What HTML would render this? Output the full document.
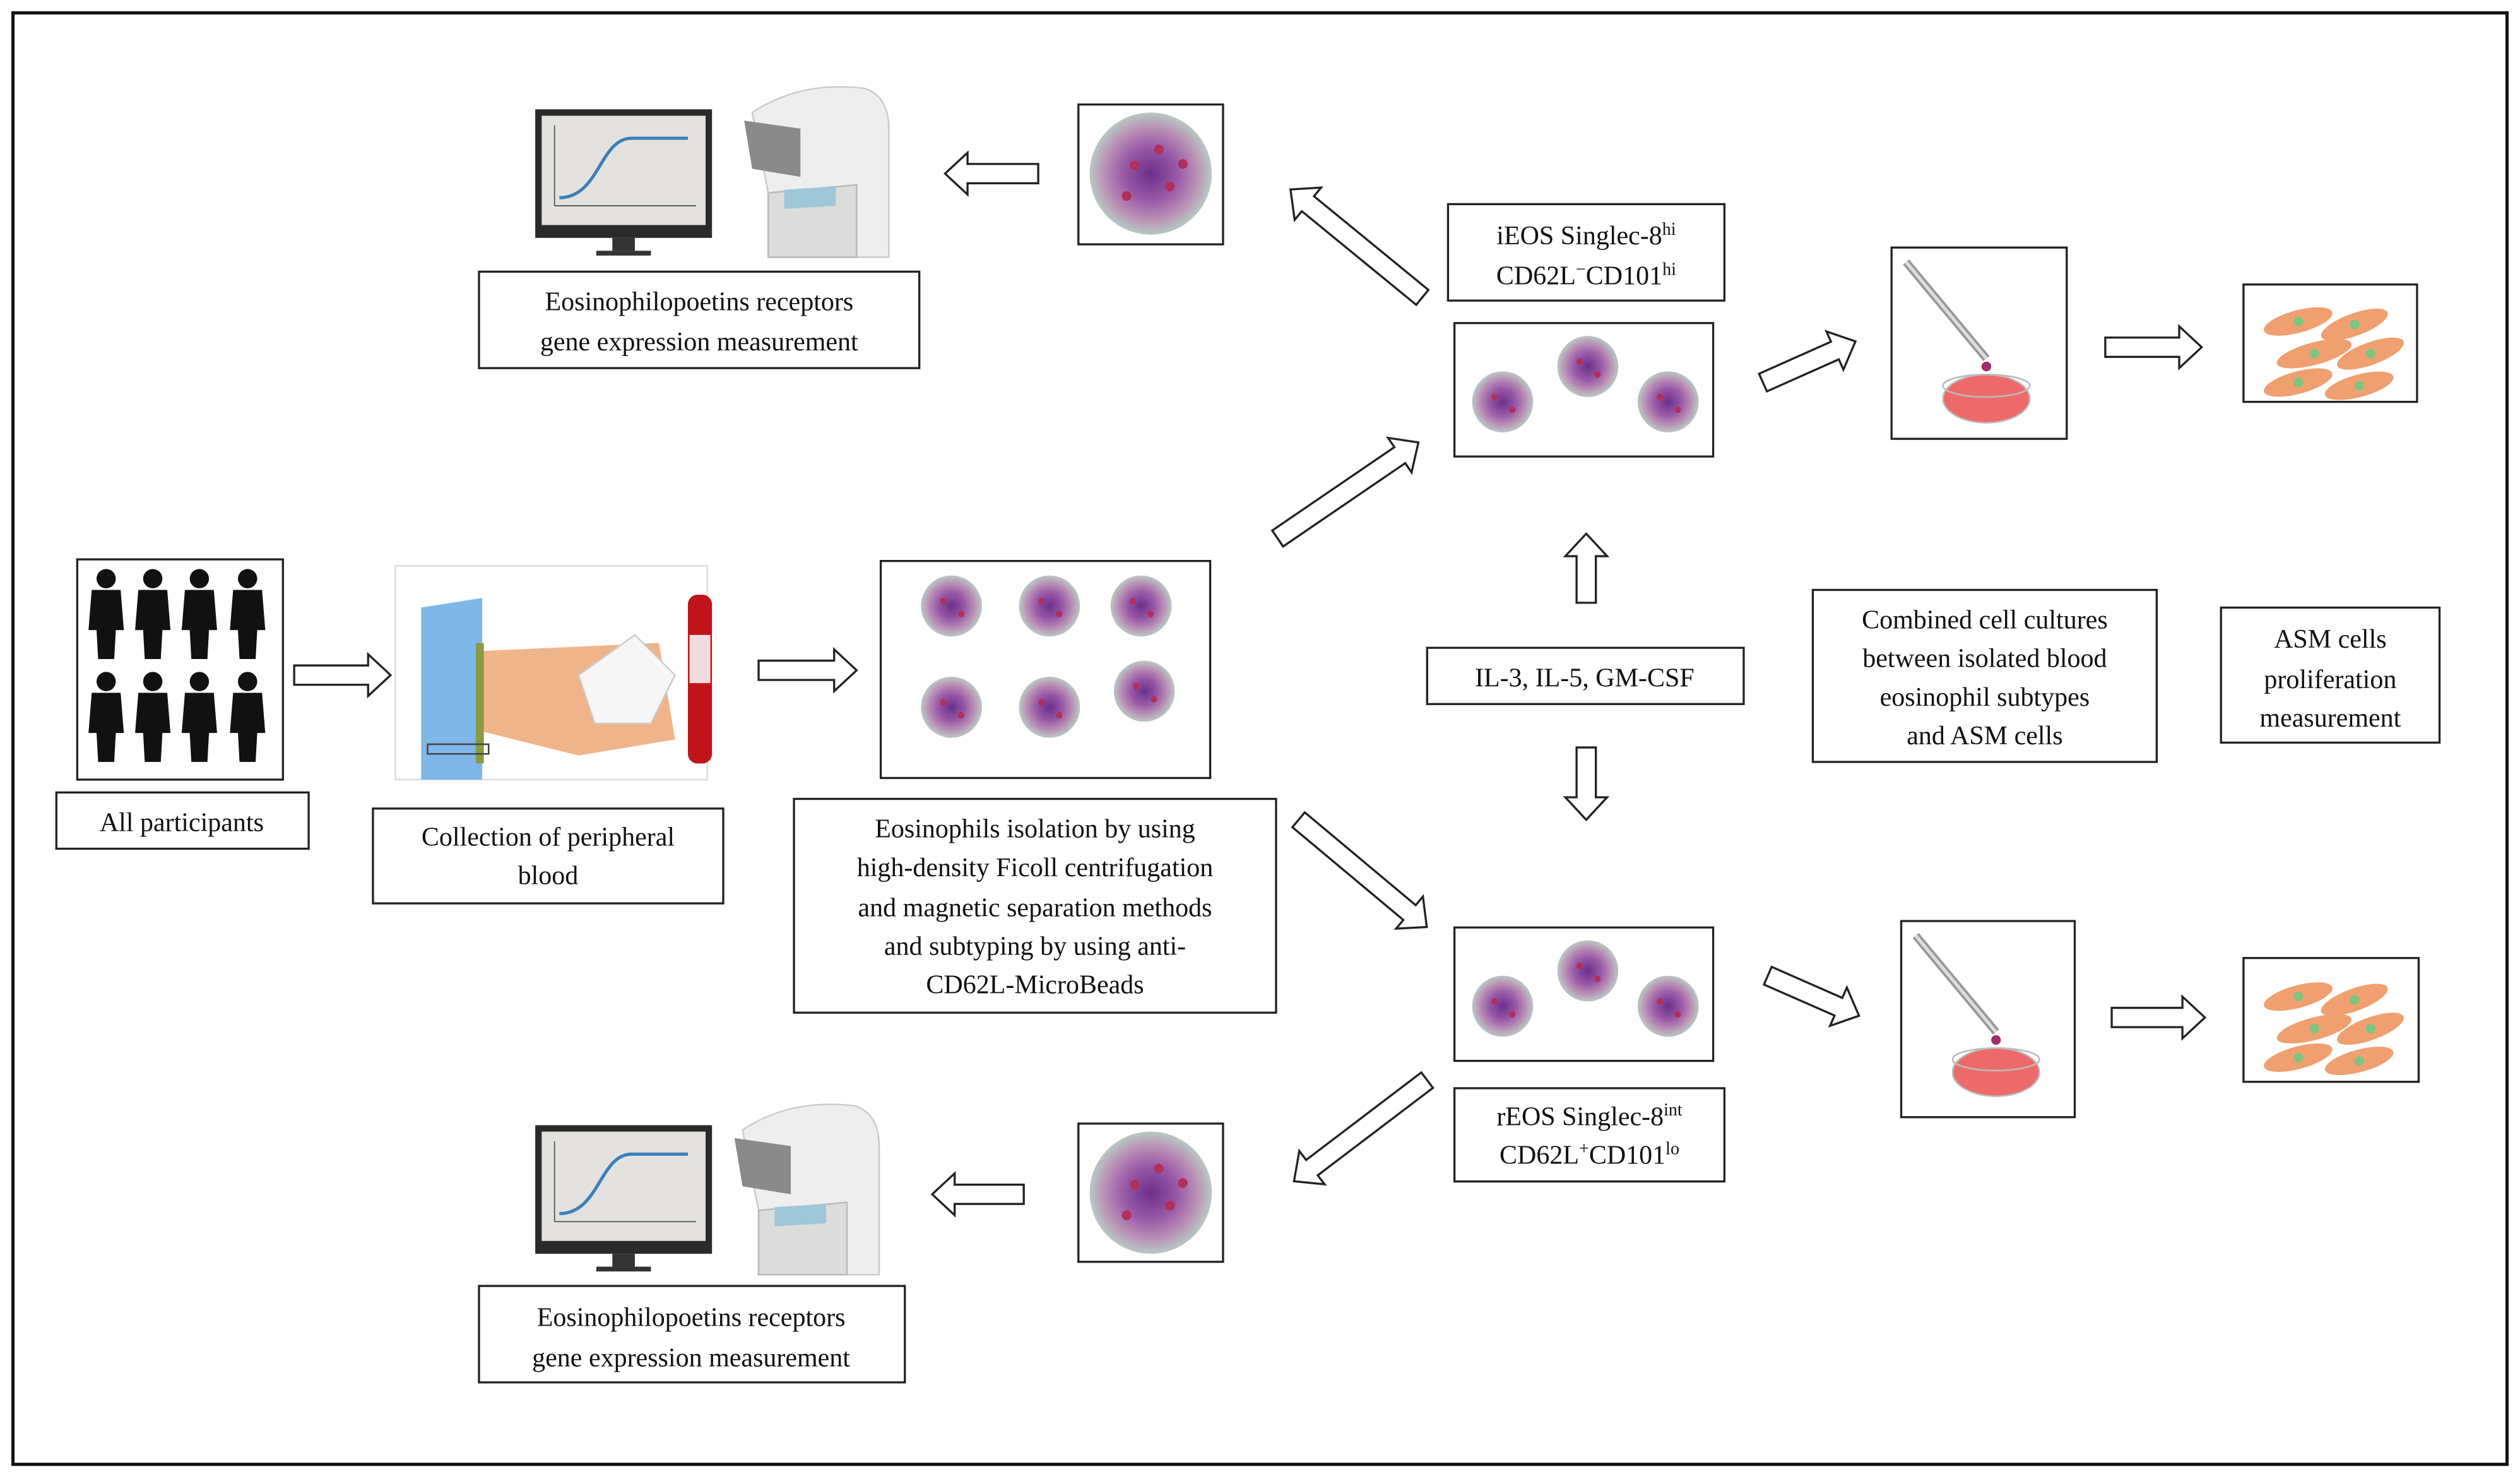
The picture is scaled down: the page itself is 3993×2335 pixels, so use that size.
<!DOCTYPE html>
<html><head><meta charset="utf-8"><style>
html,body{margin:0;padding:0;background:#fff;}
svg{display:block;}
text{font-family:"Liberation Serif",serif;font-size:16.5px;fill:#111;}
</style></head><body>
<svg width="3993" height="2335" viewBox="0 0 1568 917" xmlns="http://www.w3.org/2000/svg">
<defs>
<radialGradient id="cell" cx="50%" cy="50%" r="50%">
<stop offset="0" stop-color="#6a2f8a"/><stop offset="0.45" stop-color="#9a5aa8"/><stop offset="0.75" stop-color="#b98fb5"/><stop offset="1" stop-color="#b9c8c3"/></radialGradient>
<polygon id="ar" points="0,-6 1,-6 1,-13 15,0 1,13 1,6 0,6"/>
<g id="mon">
<rect x="0" y="0" width="110" height="80" fill="#2a2a2a"/>
<rect x="4" y="4" width="102" height="68" fill="#e4e2df"/>
<path d="M12,60 L12,10 M12,60 L100,60" stroke="#555" stroke-width="0.7" fill="none"/>
<path d="M15,55 C40,55 40,18 60,18 L95,18" stroke="#3c7fb8" stroke-width="2" fill="none"/>
<rect x="48" y="80" width="14" height="8" fill="#333"/><rect x="38" y="88" width="34" height="3" fill="#333"/>
</g>
<g id="mach">
<path d="M10,20 Q40,0 80,5 Q95,10 95,30 L95,110 L20,110 L20,70 Z" fill="#eeeeee" stroke="#ccc"/>
<path d="M5,25 L40,30 L40,60 L10,55 Z" fill="#8a8a8a"/>
<path d="M20,70 L75,65 L75,110 L20,110 Z" fill="#dcdcdc" stroke="#bbb"/>
<path d="M30,68 L62,66 L62,78 L30,80 Z" fill="#9fc7d8"/>
</g>
<g id="bigcell"><circle r="38" fill="url(#cell)"/><circle cx="-10" cy="-5" r="3" fill="#b0305a"/><circle cx="12" cy="8" r="3" fill="#b0305a"/><circle cx="5" cy="-15" r="3" fill="#b0305a"/><circle cx="-15" cy="14" r="3" fill="#b0305a"/><circle cx="20" cy="-6" r="3" fill="#b0305a"/></g>
<g id="sc"><circle r="19" fill="url(#cell)"/><circle cx="-5" cy="-3" r="2" fill="#b0305a"/><circle cx="6" cy="5" r="2" fill="#b0305a"/></g>
<g id="asm">
<ellipse cx="30" cy="20" rx="22" ry="7" transform="rotate(-15 30 20)" fill="#f0a070"/><circle cx="30" cy="20" r="3" fill="#7fc47f"/>
<ellipse cx="65" cy="22" rx="22" ry="7" transform="rotate(-20 65 22)" fill="#f0a070"/><circle cx="65" cy="22" r="3" fill="#7fc47f"/>
<ellipse cx="40" cy="40" rx="24" ry="7" transform="rotate(-15 40 40)" fill="#f0a070"/><circle cx="40" cy="40" r="3" fill="#7fc47f"/>
<ellipse cx="75" cy="40" rx="22" ry="7" transform="rotate(-20 75 40)" fill="#f0a070"/><circle cx="75" cy="40" r="3" fill="#7fc47f"/>
<ellipse cx="30" cy="58" rx="22" ry="7" transform="rotate(-15 30 58)" fill="#f0a070"/><circle cx="30" cy="58" r="3" fill="#7fc47f"/>
<ellipse cx="68" cy="60" rx="22" ry="7" transform="rotate(-15 68 60)" fill="#f0a070"/><circle cx="68" cy="60" r="3" fill="#7fc47f"/>
</g>
<g id="pip">
<line x1="8" y1="5" x2="58" y2="65" stroke="#999" stroke-width="5"/>
<line x1="8" y1="5" x2="58" y2="65" stroke="#ddd" stroke-width="2"/>
<circle cx="58" cy="70" r="3" fill="#a0306a"/>
<ellipse cx="58" cy="90" rx="27" ry="15" fill="#ee6a6a" stroke="#bbb"/>
<ellipse cx="58" cy="82" rx="27" ry="7" fill="none" stroke="#bbb"/>
</g>
<g id="fig"><circle cx="0" cy="-24" r="6"/><path d="M-9,-17 L9,-17 L11,8 L6,8 L5,26 L-5,26 L-6,8 L-11,8 Z"/></g>
</defs>
<rect x="8" y="8" width="1552" height="903" fill="none" stroke="#111" stroke-width="2"/>
<g fill="none" stroke="#222" stroke-width="1.3">
<rect x="298" y="169" width="274" height="60"/>
<rect x="671" y="65" width="90" height="87"/>
<rect x="901" y="127" width="172" height="60"/>
<rect x="905" y="201" width="161" height="83"/>
<rect x="1177" y="154" width="109" height="119"/>
<rect x="1396" y="177" width="108" height="73"/>
<rect x="888" y="403" width="197" height="35"/>
<rect x="1128" y="367" width="214" height="107"/>
<rect x="1382" y="378" width="136" height="84"/>
<rect x="48" y="348" width="128" height="137"/>
<rect x="35" y="493" width="157" height="35"/>
<rect x="232" y="503" width="218" height="59"/>
<rect x="548" y="349" width="205" height="135"/>
<rect x="494" y="497" width="300" height="133"/>
<rect x="905" y="577" width="161" height="83"/>
<rect x="905" y="677" width="168" height="58"/>
<rect x="1183" y="573" width="108" height="122"/>
<rect x="1396" y="596" width="109" height="77"/>
<rect x="671" y="699" width="90" height="86"/>
<rect x="298" y="800" width="265" height="60"/>
</g>
<rect x="246" y="352" width="194" height="133" fill="none" stroke="#ddd" stroke-width="1"/>
<!-- illustrations -->
<use href="#mon" x="333" y="68"/><use href="#mach" x="458" y="50"/>
<use href="#mon" x="333" y="700"/><use href="#mach" x="452" y="683"/>
<use href="#bigcell" x="716" y="108"/><use href="#bigcell" x="716" y="742"/>
<use href="#sc" x="935" y="250"/><use href="#sc" x="988" y="228"/><use href="#sc" x="1038" y="250"/>
<use href="#sc" x="935" y="626"/><use href="#sc" x="988" y="604"/><use href="#sc" x="1038" y="626"/>
<use href="#sc" x="592" y="377"/><use href="#sc" x="653" y="377"/><use href="#sc" x="710" y="377"/>
<use href="#sc" x="592" y="440"/><use href="#sc" x="653" y="440"/><use href="#sc" x="712" y="430"/>
<use href="#pip" x="1178" y="158"/><use href="#pip" x="1184" y="577"/>
<use href="#asm" x="1400" y="180"/><use href="#asm" x="1400" y="600"/>
<g fill="#111">
<use href="#fig" x="66" y="384"/><use href="#fig" x="95" y="384"/><use href="#fig" x="124" y="384"/><use href="#fig" x="154" y="384"/>
<use href="#fig" x="66" y="448"/><use href="#fig" x="95" y="448"/><use href="#fig" x="124" y="448"/><use href="#fig" x="154" y="448"/>
</g>
<!-- blood draw -->
<path d="M262,378 L300,372 L300,485 L262,485 Z" fill="#7fb8e8"/>
<path d="M300,405 L410,400 L420,460 L360,470 L300,455 Z" fill="#f0b48a"/>
<path d="M360,420 L395,395 L420,420 L405,450 L370,450 Z" fill="#f6f6f6" stroke="#ccc"/>
<rect x="296" y="400" width="5" height="75" fill="#8a9a40"/>
<rect x="428" y="370" width="15" height="105" rx="6" fill="#c0141c"/>
<rect x="429" y="395" width="13" height="30" fill="#f0dcdc"/>
<rect x="266" y="463" width="38" height="6" fill="none" stroke="#444"/>
<!-- arrows -->
<g fill="#fff" stroke="#222" stroke-width="1.3">
<g transform="translate(646,108) rotate(180) scale(1,1)"><polygon points="0,-6 44,-6 44,-13 58,0 44,13 44,6 0,6"/></g>
<g transform="translate(885,185) rotate(-140.7)"><polygon points="0,-6 92,-6 92,-13 106,0 92,13 92,6 0,6"/></g>
<g transform="translate(1097,238) rotate(-24)"><polygon points="0,-6 49,-6 49,-13 63,0 49,13 49,6 0,6"/></g>
<g transform="translate(1310,216)"><polygon points="0,-6 46,-6 46,-13 60,0 46,13 46,6 0,6"/></g>
<g transform="translate(987,375) rotate(-90)"><polygon points="0,-6 29,-6 29,-13 43,0 29,13 29,6 0,6"/></g>
<g transform="translate(987,465) rotate(90)"><polygon points="0,-6 31,-6 31,-13 45,0 31,13 31,6 0,6"/></g>
<g transform="translate(795,335) rotate(-34.3)"><polygon points="0,-6 92,-6 92,-13 106,0 92,13 92,6 0,6"/></g>
<g transform="translate(183,420)"><polygon points="0,-6 46,-6 46,-13 60,0 46,13 46,6 0,6"/></g>
<g transform="translate(472,417)"><polygon points="0,-6 47,-6 47,-13 61,0 47,13 47,6 0,6"/></g>
<g transform="translate(808,510) rotate(39.9)"><polygon points="0,-6 90,-6 90,-13 104,0 90,13 90,6 0,6"/></g>
<g transform="translate(1100,607) rotate(23.7)"><polygon points="0,-6 48,-6 48,-13 62,0 48,13 48,6 0,6"/></g>
<g transform="translate(1314,633)"><polygon points="0,-6 44,-6 44,-13 58,0 44,13 44,6 0,6"/></g>
<g transform="translate(888,672) rotate(142.8)"><polygon points="0,-6 90,-6 90,-13 104,0 90,13 90,6 0,6"/></g>
<g transform="translate(637,743) rotate(180)"><polygon points="0,-6 43,-6 43,-13 57,0 43,13 43,6 0,6"/></g>
</g>
<!-- text -->
<g text-anchor="middle">
<text x="435" y="193">Eosinophilopoetins receptors</text>
<text x="435" y="218">gene expression measurement</text>
<text x="430" y="825">Eosinophilopoetins receptors</text>
<text x="430" y="850">gene expression measurement</text>
<text x="987" y="152">iEOS Singlec-8<tspan dy="-6" font-size="11">hi</tspan></text>
<text x="987" y="177">CD62L<tspan dy="-6" font-size="11">−</tspan><tspan dy="6">CD101</tspan><tspan dy="-6" font-size="11">hi</tspan></text>
<text x="989" y="700">rEOS Singlec-8<tspan dy="-6" font-size="11">int</tspan></text>
<text x="989" y="724">CD62L<tspan dy="-6" font-size="11">+</tspan><tspan dy="6">CD101</tspan><tspan dy="-6" font-size="11">lo</tspan></text>
<text x="986" y="427">IL-3, IL-5, GM-CSF</text>
<text x="1235" y="391">Combined cell cultures</text>
<text x="1235" y="415">between isolated blood</text>
<text x="1235" y="439">eosinophil subtypes</text>
<text x="1235" y="463">and ASM cells</text>
<text x="1450" y="403">ASM cells</text>
<text x="1450" y="428" font-size="15.5">proliferation</text>
<text x="1450" y="452" font-size="15.5">measurement</text>
<text x="113" y="517">All participants</text>
<text x="341" y="526">Collection of peripheral</text>
<text x="341" y="550">blood</text>
<text x="644" y="521">Eosinophils isolation by using</text>
<text x="644" y="545">high-density Ficoll centrifugation</text>
<text x="644" y="570">and magnetic separation methods</text>
<text x="644" y="594">and subtyping by using anti-</text>
<text x="644" y="618">CD62L-MicroBeads</text>
</g>
</svg>
</body></html>
